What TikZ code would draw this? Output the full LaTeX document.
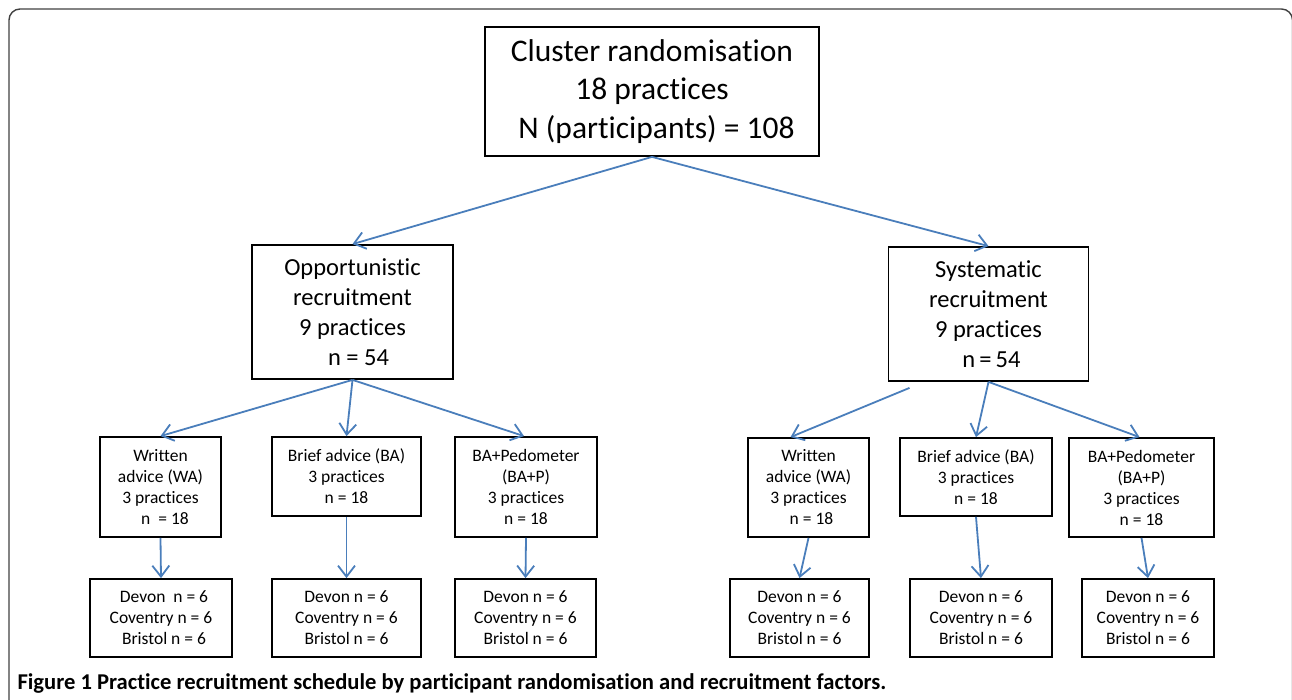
\documentclass[tikz,border=0pt]{standalone}
\usepackage{fontspec}
\setmainfont{Carlito}[Ligatures={NoCommon,NoContextual}]
\usepackage{tikz}
\usetikzlibrary{arrows.meta}
\definecolor{LinkBlue}{HTML}{4A7EBB}

\begin{document}
\begin{tikzpicture}[x=1pt,y=-1pt,
		bignode/.style={rectangle, draw=black, line width=1.8pt, align=center, inner sep=0pt, font=\fontsize{31.5}{38.5}\selectfont},
		midnode/.style={rectangle, draw=black, line width=1.8pt, align=center, inner sep=0pt, font=\fontsize{24.5}{30}\selectfont},
		smallnode/.style={rectangle, draw=black, line width=1.8pt, align=center, inner sep=0pt, font=\fontsize{17.5}{21}\selectfont},
		arrowpath/.style={draw=LinkBlue, line width=1.8pt, -{Straight Barb[length=11pt,width=17pt]}}
		]
		\useasboundingbox (0,0) rectangle (1292,699);
		
		% Frame and caption
		\draw[black!75, line width=1.4pt, rounded corners=11pt] (9,9) rectangle (1292.5,740);
		\node[anchor=west, font=\fontsize{22.6}{26}\selectfont\bfseries] (Caption) at (14,683) {Figure 1 Practice recruitment schedule by participant randomisation and recruitment factors.};
		
		% Nodes
		\node[bignode, minimum width=334pt, minimum height=129pt] (Cluster) at (652,91.5) {Cluster randomisation\\18 practices\\\hspace*{9pt}N (participants) = 108};
		\node[midnode, minimum width=201pt, minimum height=134pt] (Oppo) at (352.5,312) {Opportunistic\\recruitment\\9 practices\\\hspace*{12pt}n = 54};
		\node[midnode, minimum width=200pt, minimum height=134pt] (Syst) at (988.5,314) {Systematic\\recruitment\\9 practices\\\hspace*{6pt}n\,=\,54};
		
		\node[smallnode, minimum width=121pt, minimum height=100pt] (OppoWA) at (160.5,487) {Written\\advice (WA)\\3 practices\\\hspace*{9pt}n~~= 18};
		\node[smallnode, minimum width=149pt, minimum height=79pt] (OppoBA) at (346.5,476.5) {Brief advice (BA)\\3 practices\\n = 18};
		\node[smallnode, minimum width=142pt, minimum height=100pt] (OppoBAP) at (526,487) {BA+Pedometer\\(BA+P)\\3 practices\\n = 18};
		\node[smallnode, minimum width=121pt, minimum height=99pt] (SystWA) at (808.5,487.5) {Written\\advice (WA)\\3 practices\\\hspace*{6pt}n = 18};
		\node[smallnode, minimum width=152pt, minimum height=78pt] (SystBA) at (976,477) {Brief advice (BA)\\3 practices\\n = 18};
		\node[smallnode, minimum width=145pt, minimum height=99pt] (SystBAP) at (1141.5,487.5) {BA+Pedometer\\(BA+P)\\3 practices\\n = 18};
		
		\node[smallnode, minimum width=142pt, minimum height=78pt] (OppoWAsite) at (161,618) {\hspace*{6pt}Devon~~n = 6\\Coventry n = 6\\\hspace*{6pt}Bristol n = 6};
		\node[smallnode, minimum width=149pt, minimum height=78pt] (OppoBAsite) at (346.5,618) {Devon n = 6\\Coventry n = 6\\Bristol n = 6};
		\node[smallnode, minimum width=141pt, minimum height=78pt] (OppoBAPsite) at (525.5,618) {Devon n = 6\\Coventry n = 6\\Bristol n = 6};
		\node[smallnode, minimum width=139pt, minimum height=78pt] (SystWAsite) at (799.5,618) {Devon n = 6\\Coventry n = 6\\Bristol n = 6};
		\node[smallnode, minimum width=142pt, minimum height=78pt] (SystBAsite) at (981,618) {Devon n = 6\\Coventry n = 6\\Bristol n = 6};
		\node[smallnode, minimum width=132pt, minimum height=78pt] (SystBAPsite) at (1148,618) {Devon n = 6\\Coventry n = 6\\Bristol n = 6};
		\coordinate (SystOut) at ([xshift=-79pt,yshift=-6pt]Syst.south);
		
		% Main Paths
		\path (Cluster.south) edge [arrowpath] (Oppo.north);
		\path (Cluster.south) edge [arrowpath] (Syst.north);
		
		% Split
		\path (Oppo.south) edge [arrowpath] (OppoWA.north);
		\path (Oppo.south) edge [arrowpath] (OppoBA.north);
		\path (Oppo.south) edge [arrowpath] ([xshift=-2pt]OppoBAP.north);
		\path (SystOut) edge [arrowpath] ([xshift=-18pt]SystWA.north);
		\path (Syst.south) edge [arrowpath] (SystBA.north);
		\path (Syst.south) edge [arrowpath] ([xshift=-2pt]SystBAP.north);
		
		% Sites
		\path (OppoWA.south) edge [arrowpath] (OppoWAsite.north);
		\path (OppoBA.south) edge [arrowpath] (OppoBAsite.north);
		\path (OppoBAP.south) edge [arrowpath] (OppoBAPsite.north);
		\path (SystWA.south) edge [arrowpath] (SystWAsite.north);
		\path (SystBA.south) edge [arrowpath] (SystBAsite.north);
		\path (SystBAP.south) edge [arrowpath] (SystBAPsite.north);
	\end{tikzpicture}
\end{document}
